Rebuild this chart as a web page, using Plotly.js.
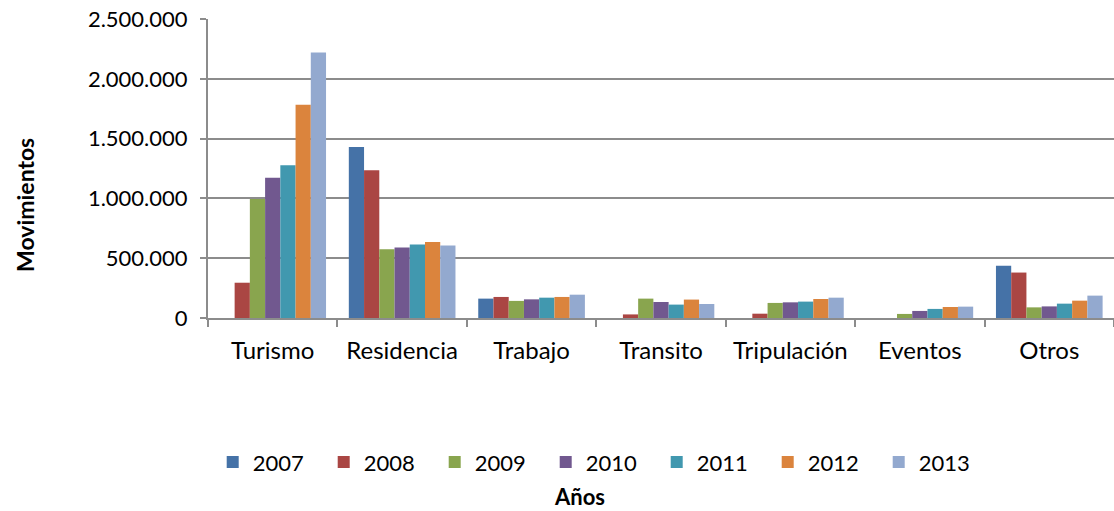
<!DOCTYPE html>
<html>
<head>
<meta charset="utf-8">
<script src="https://cdn.plot.ly/plotly-3.0.1.min.js"></script>
<style>html,body{margin:0;padding:0;background:#fff;}#chart{width:1114px;height:511px;}</style>
</head>
<body>
<div id="chart"></div>
<script>
var categories = ["Turismo", "Residencia", "Trabajo", "Transito", "Tripulación", "Eventos", "Otros"];
var years = ["2007", "2008", "2009", "2010", "2011", "2012", "2013"];
var v2007 = [0, 1430000, 162000, 0, 0, 0, 436000];
var v2008 = [295000, 1235000, 176000, 30000, 36000, 0, 380000];
var v2009 = [995000, 575000, 143000, 162000, 126000, 34000, 89000];
var v2010 = [1173000, 589000, 156000, 134000, 131000, 59000, 97000];
var v2011 = [1277000, 614000, 170000, 112000, 137000, 76000, 120000];
var v2012 = [1783000, 636000, 176000, 154000, 159000, 92000, 145000];
var v2013 = [2219000, 606000, 195000, 117000, 170000, 95000, 187000];
var seriesValues = [v2007, v2008, v2009, v2010, v2011, v2012, v2013];
var colors = ["#4572A7", "#AA4643", "#89A54E", "#71588F", "#4198AF", "#DB843D", "#93A9CF"];
var yTicks = [0, 500000, 1000000, 1500000, 2000000, 2500000];
var yTitle = "Movimientos";
var xTitle = "Años";

var font = "Lato, 'Open Sans', sans-serif";
var traces = years.map(function (y, i) {
  return {
    type: "bar",
    name: y,
    x: categories,
    y: seriesValues[i],
    marker: {color: colors[i], line: {width: 0}},
    hoverinfo: "x+y+name"
  };
});

var layout = {
  width: 1114, height: 511,
  margin: {l: 208, r: 0, t: 19, b: 193},
  paper_bgcolor: "#ffffff", plot_bgcolor: "#ffffff",
  separators: ",.",
  barmode: "group",
  bargap: 0.176,
  bargroupgap: 0,
  font: {family: font, size: 24, color: "#000"},
  showlegend: true,
  legend: {
    orientation: "h", x: 0.434, xanchor: "center", y: -0.482, yanchor: "middle",
    font: {family: font, size: 22, color: "#000"},
    itemwidth: 30, tracegroupgap: 0, entrywidth: 66
  },
  xaxis: {
    type: "category",
    showline: true, linecolor: "#8c8c8c", linewidth: 2,
    ticks: "outside", tickson: "boundaries", ticklen: 7, tickcolor: "#8c8c8c", tickwidth: 2,
    ticklabelstandoff: 10,
    tickfont: {family: font, size: 24, color: "#000"},
    showgrid: false
  },
  yaxis: {
    range: [0, 2500000],
    tickvals: yTicks,
    tickformat: ",d",
    showline: true, linecolor: "#8c8c8c", linewidth: 2,
    ticks: "outside", ticklen: 6, tickcolor: "#8c8c8c", tickwidth: 2,
    ticklabelstandoff: 8,
    tickfont: {family: font, size: 22, color: "#000"},
    showgrid: true, gridcolor: "#8c8c8c", gridwidth: 2,
    zeroline: false
  },
  annotations: [
    {text: yTitle, textangle: -90, xref: "paper", yref: "paper", x: -0.202, y: 0.378,
     xanchor: "center", yanchor: "middle", showarrow: false,
     font: {family: font, size: 23, color: "#000", weight: "bold"}},
    {text: xTitle, xref: "paper", yref: "paper", x: 0.41, y: -0.597,
     xanchor: "center", yanchor: "middle", showarrow: false,
     font: {family: font, size: 22, color: "#000", weight: "bold"}}
  ]
};

Plotly.newPlot("chart", traces, layout, {displayModeBar: false, staticPlot: true});
</script>
</body>
</html>
